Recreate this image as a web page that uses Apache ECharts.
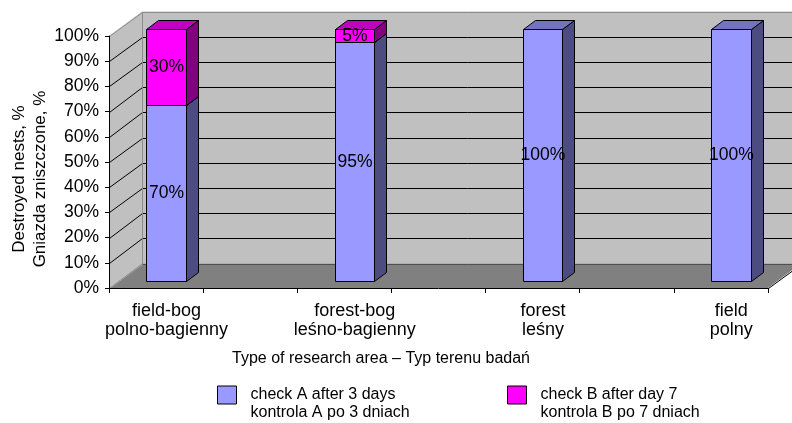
<!DOCTYPE html>
<html>
<head>
<meta charset="utf-8">
<script src="https://cdn.jsdelivr.net/npm/echarts@6/dist/echarts.min.js"></script>
<style>
  html, body { margin: 0; padding: 0; background: #fff; }
  #chart { width: 792px; height: 423px; }
</style>
</head>
<body>
<div id="chart"></div>
<script>
// Destroyed nests by type of research area (stacked, %)
const categoriesEn = ['field-bog', 'forest-bog', 'forest', 'field'];
const categoriesPl = ['polno-bagienny', 'leśno-bagienny', 'leśny', 'polny'];
const checkA = [70, 95, 100, 100];
const checkB = [30, 5, 0, 0];
const seriesNames = [
  'check A after 3 days\nkontrola A po 3 dniach',
  'check B after day 7\nkontrola B po 7 dniach'
];
const wallGridValues = [10, 20, 30, 40, 50, 60, 70, 80, 90];

const FONT = '"Liberation Sans", Arial, sans-serif';
const X_MAX = 7;           // front edge is split into 7 tick intervals
const DX = 33, DY = -24.5; // depth of the room (front edge -> back wall)
const FX = 10, FY = -7;    // bar front face sits a little behind the front edge
const BDX = 11.5, BDY = -9.3; // depth of each column
const HW = 0.21;           // half column width, in axis units
const LABEL_SHIFT = 0.11;

const slot = i => 0.5 + 2 * i;
const labelPos = categoriesEn.map((_, i) => slot(i) + LABEL_SHIFT);

const crisp = p => [Math.round(p[0]) + 0.5, Math.round(p[1]) + 0.5];

function renderRoom(params, api) {
  const P = (x, y, d) => {
    const c = api.coord([x, y]);
    return [c[0] + DX * d, c[1] + DY * d];
  };
  const line = (pts, stroke) => ({
    type: 'polyline',
    shape: { points: pts.map(crisp) },
    style: { stroke: stroke, lineWidth: 1, fill: null }
  });
  const children = [
    { type: 'polygon', shape: { points: [P(0, 0, 1), P(0, 100, 1), P(X_MAX, 100, 1), P(X_MAX, 0, 1)] },
      style: { fill: '#c0c0c0' } },
    { type: 'polygon', shape: { points: [P(0, 0, 0), P(0, 100, 0), P(0, 100, 1), P(0, 0, 1)] },
      style: { fill: '#c0c0c0' } },
    { type: 'polygon', shape: { points: [P(0, 0, 0), P(X_MAX, 0, 0), P(X_MAX, 0, 1), P(0, 0, 1)] },
      style: { fill: '#808080' } }
  ];
  wallGridValues.forEach(v => {
    children.push(line([P(0, v, 0), P(0, v, 1), P(X_MAX, v, 1)], '#000'));
  });
  children.push(line([P(0, 100, 0), P(0, 100, 1), P(X_MAX, 100, 1)], '#8c8c8c'));
  children.push(line([P(0, 0, 1), P(0, 100, 1)], '#8c8c8c'));
  children.push(line([P(0, 0, 1), P(X_MAX, 0, 1)], '#505050'));
  children.push(line([P(0, 0, 0), P(0, 0, 1)], '#a0a0a0'));
  children.push(line([P(X_MAX, 0, 0), P(X_MAX, 0, 1)], '#000'));
  return { type: 'group', children: children };
}

function makeBarRenderer(front, side, top) {
  return function (params, api) {
    const i = api.value(0), v = api.value(1), base = api.value(2);
    if (!v) return null;
    const xc = slot(i);
    const bl = api.coord([xc - HW, base]);
    const tr = api.coord([xc + HW, base + v]);
    const x0 = Math.round(bl[0] + FX) + 0.5, x1 = Math.round(tr[0] + FX) + 0.5;
    const yb = Math.round(bl[1] + FY) + 0.5, yt = Math.round(tr[1] + FY) + 0.5;
    const sx = Math.round(BDX), sy = Math.round(BDY);
    const edge = { stroke: '#000', lineWidth: 1 };
    return {
      type: 'group',
      children: [
        { type: 'polygon', shape: { points: [[x1, yb], [x1 + sx, yb + sy], [x1 + sx, yt + sy], [x1, yt]] },
          style: Object.assign({ fill: side }, edge) },
        { type: 'polygon', shape: { points: [[x0, yt], [x1, yt], [x1 + sx, yt + sy], [x0 + sx, yt + sy]] },
          style: Object.assign({ fill: top }, edge) },
        { type: 'rect', shape: { x: x0, y: yt, width: x1 - x0, height: yb - yt },
          style: Object.assign({ fill: front }, edge) },
        { type: 'text', style: { text: v + '%', x: (x0 + x1) / 2, y: (yb + yt) / 2,
          align: 'center', verticalAlign: 'middle', font: '17.5px ' + FONT, fill: '#000' } }
      ]
    };
  };
}

const chart = echarts.init(document.getElementById('chart'), null, { renderer: 'canvas' });

// the leading blank line keeps the first text line level with the swatch
const legendBase = {
  orient: 'horizontal',
  top: 367,
  icon: 'rect',
  itemWidth: 19,
  itemHeight: 18,
  itemStyle: { borderColor: '#000', borderWidth: 1 },
  formatter: name => ' \n' + name,
  textStyle: { fontFamily: FONT, fontSize: 16, color: '#000', lineHeight: 18, padding: [2, 0, 0, 9] },
  selectedMode: false,
  padding: 0
};

chart.setOption({
  animation: false,
  backgroundColor: '#fff',
  textStyle: { fontFamily: FONT },
  title: {
    text: 'Type of research area – Typ terenu badań',
    left: 232, top: 351, padding: 0,
    textStyle: { fontFamily: FONT, fontSize: 16, fontWeight: 'normal', color: '#000' }
  },
  legend: [
    Object.assign({ data: [seriesNames[0]], left: 217 }, legendBase),
    Object.assign({ data: [seriesNames[1]], left: 507 }, legendBase)
  ],
  grid: { left: 109, right: 24, top: 36, bottom: 135, containLabel: false },
  xAxis: {
    type: 'value', min: 0, max: X_MAX, interval: 1, z: 10,
    axisLine: { show: true, lineStyle: { color: '#000', width: 1 } },
    axisTick: { show: true, length: 5, lineStyle: { color: '#000' } },
    splitLine: { show: false },
    axisLabel: {
      customValues: labelPos,
      margin: 14,
      fontFamily: FONT, fontSize: 18, lineHeight: 19, color: '#000',
      formatter: val => {
        const i = labelPos.findIndex(p => Math.abs(p - val) < 1e-6);
        return i < 0 ? '' : categoriesEn[i] + '\n' + categoriesPl[i];
      }
    }
  },
  yAxis: {
    type: 'value', min: 0, max: 100, interval: 10, z: 10,
    axisLine: { show: true, lineStyle: { color: '#000', width: 1 } },
    axisTick: { show: true, length: 4, lineStyle: { color: '#000' } },
    splitLine: { show: false },
    axisLabel: { formatter: '{value}%', margin: 10, fontFamily: FONT, fontSize: 17.5, color: '#000' }
  },
  graphic: [{
    type: 'text',
    x: 30, y: 179,
    rotation: Math.PI / 2,
    style: {
      text: 'Destroyed nests, %\nGniazda zniszczone, %',
      align: 'center', verticalAlign: 'middle',
      font: '17px ' + FONT, lineHeight: 21, fill: '#000'
    }
  }],
  series: [
    {
      name: 'room', type: 'custom', z: 1, silent: true, clip: false,
      data: [[0, 0]], renderItem: renderRoom
    },
    {
      name: seriesNames[0], type: 'custom', z: 3, clip: false,
      itemStyle: { color: '#9999ff' },
      encode: { x: 0, y: 1 },
      data: checkA.map((v, i) => [i, v, 0]),
      renderItem: makeBarRenderer('#9999ff', '#4c4c80', '#7373bf')
    },
    {
      name: seriesNames[1], type: 'custom', z: 4, clip: false,
      itemStyle: { color: '#ff00ff' },
      encode: { x: 0, y: 1 },
      data: checkB.map((v, i) => [i, v, checkA[i]]),
      renderItem: makeBarRenderer('#ff00ff', '#800080', '#bf00bf')
    }
  ]
});
</script>
</body>
</html>
